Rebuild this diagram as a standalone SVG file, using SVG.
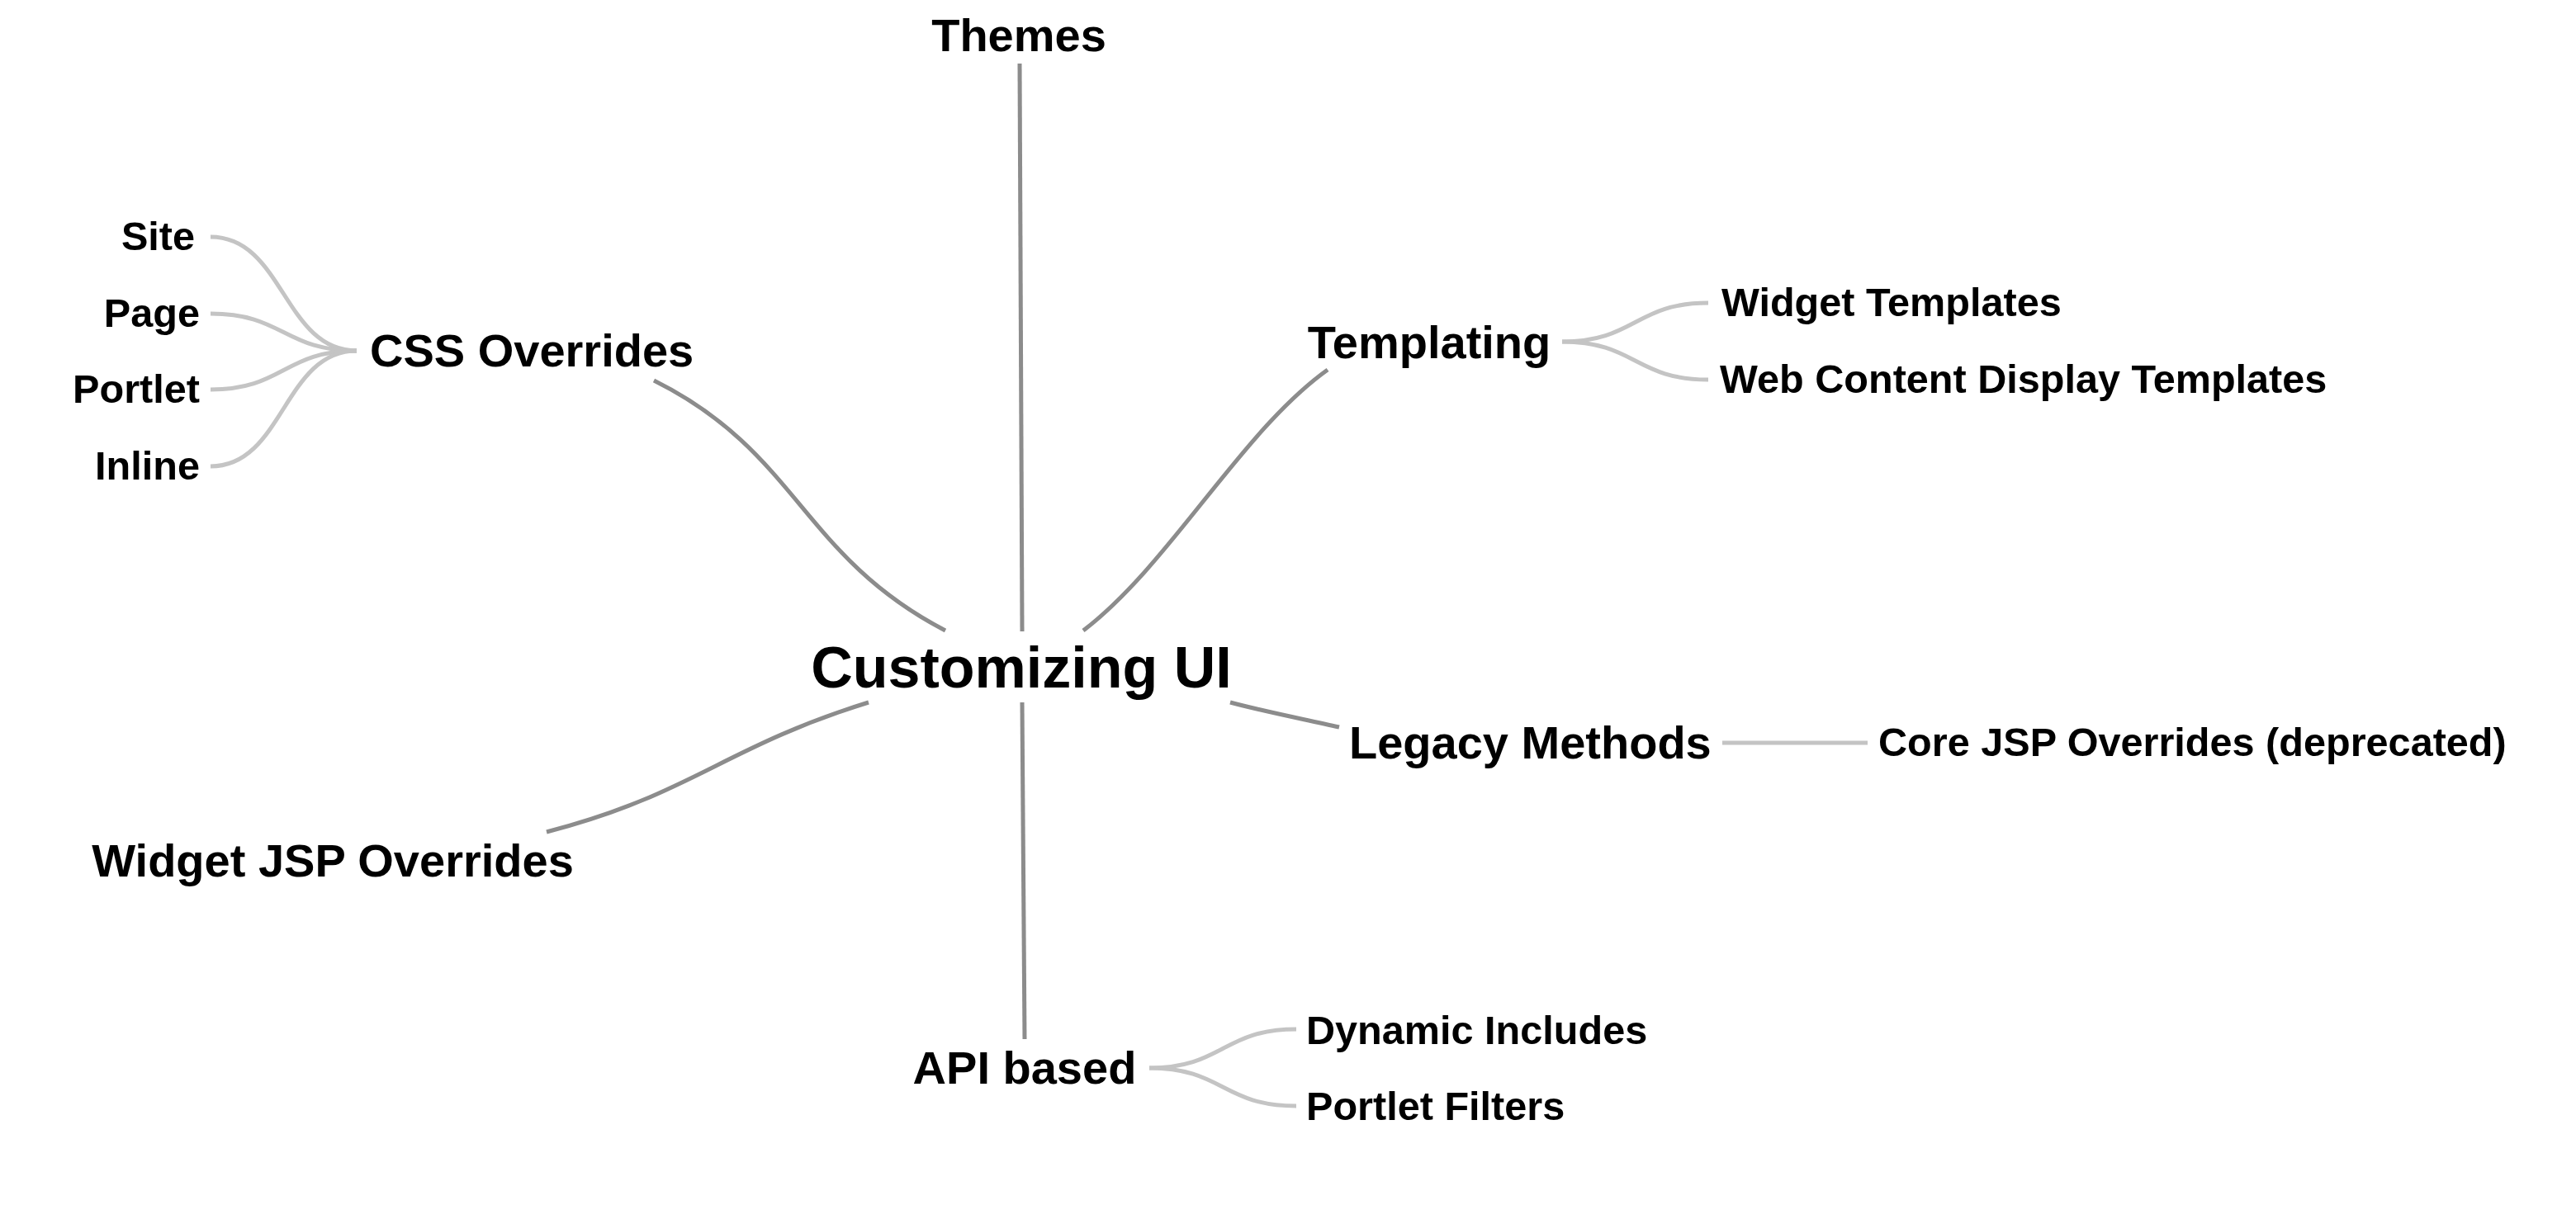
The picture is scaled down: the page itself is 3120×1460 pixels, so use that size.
<svg xmlns="http://www.w3.org/2000/svg" width="3120" height="1460" viewBox="0 0 3120 1460">
<style>
text{font-family:"Liberation Sans",Arial,Helvetica,sans-serif;font-weight:bold;fill:#000}
.root{font-size:70px}
.l1{font-size:56px}
.l2{font-size:48.6px}
.m{text-anchor:middle}
.e{text-anchor:end}
.c1{fill:none;stroke:#8c8c8c;stroke-width:5}
.c2{fill:none;stroke:#c4c4c4;stroke-width:5}
</style>
<rect width="3120" height="1460" fill="#fff"/>
<g id="connectors">
<path class="c1" d="M1235,77 L1238,765"/>
<path class="c1" d="M1238,851 L1241,1259"/>
<path class="c1" d="M792,461 C967,548 970,673 1145,764"/>
<path class="c1" d="M1312,764 C1417,684 1503,523 1608,448"/>
<path class="c1" d="M1052,851 C875,906 839,962 662,1008"/>
<path class="c1" d="M1490,851 C1535,863 1578,871 1622,881"/>
<path class="c2" d="M255,287 C343.5,287 343.5,425 432,425"/>
<path class="c2" d="M255,380 C343.5,380 343.5,425 432,425"/>
<path class="c2" d="M255,472 C343.5,472 343.5,425 432,425"/>
<path class="c2" d="M255,565 C343.5,565 343.5,425 432,425"/>
<path class="c2" d="M1892,414 C1980.5,414 1980.5,367 2069,367"/>
<path class="c2" d="M1892,414 C1980.5,414 1980.5,460 2069,460"/>
<path class="c2" d="M2086,900 L2262,900"/>
<path class="c2" d="M1392,1294 C1481,1294 1481,1247 1570,1247"/>
<path class="c2" d="M1392,1294 C1481,1294 1481,1340 1570,1340"/>
</g>
<g id="node-root"><text class="root m" x="1237" y="833">Customizing UI</text></g>
<g id="node-themes"><text class="l1 m" x="1234" y="62">Themes</text></g>
<g id="node-css"><text class="l1" x="448" y="444">CSS Overrides</text></g>
<g id="node-site"><text class="l2 e" x="236" y="303">Site</text></g>
<g id="node-page"><text class="l2 e" x="242" y="396">Page</text></g>
<g id="node-portlet"><text class="l2 e" x="242" y="488">Portlet</text></g>
<g id="node-inline"><text class="l2 e" x="242" y="581">Inline</text></g>
<g id="node-templating"><text class="l1 m" x="1731" y="434">Templating</text></g>
<g id="node-widget-templates"><text class="l2" x="2085" y="383">Widget Templates</text></g>
<g id="node-wcdt"><text class="l2" x="2083" y="476">Web Content Display Templates</text></g>
<g id="node-legacy"><text class="l1" x="1634" y="919">Legacy Methods</text></g>
<g id="node-core-jsp"><text class="l2" x="2275" y="916">Core JSP Overrides (deprecated)</text></g>
<g id="node-widget-jsp"><text class="l1 m" x="403" y="1062">Widget JSP Overrides</text></g>
<g id="node-api"><text class="l1 m" x="1241" y="1313">API based</text></g>
<g id="node-dynamic"><text class="l2" x="1582" y="1265">Dynamic Includes</text></g>
<g id="node-filters"><text class="l2" x="1582" y="1357">Portlet Filters</text></g>
</svg>
